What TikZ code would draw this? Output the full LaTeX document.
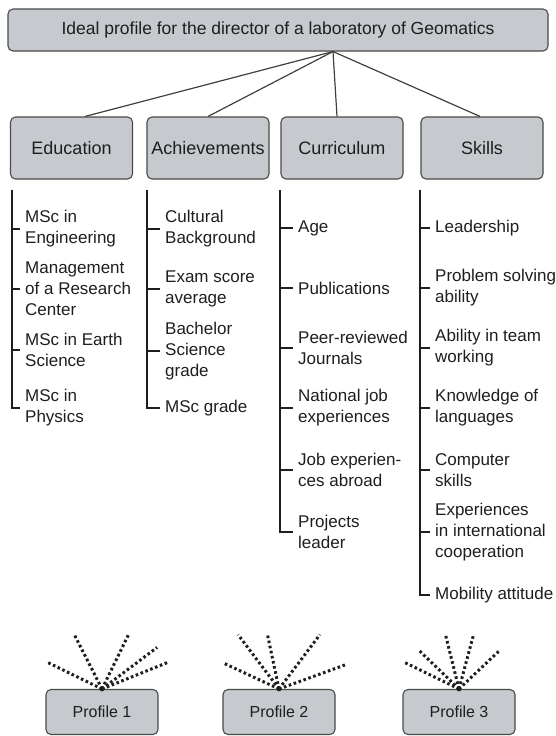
\documentclass[tikz,border=0pt]{standalone}
\usepackage{fontspec}
\setmainfont{Liberation Sans}

\definecolor{boxgray}{HTML}{C6C9CE}
\definecolor{edgegray}{HTML}{4A4A4A}
\definecolor{inkgray}{HTML}{1E1E1E}

\tikzstyle{headbox} = [draw=edgegray, fill=boxgray, line width=1.1pt,
  rectangle, rounded corners=5pt, minimum width=540pt, minimum
  height=42pt, text=inkgray, font=\fontsize{17.5}{21}\selectfont]
\tikzstyle{groupbox} = [draw=edgegray, fill=boxgray, line width=1.1pt,
  rectangle, rounded corners=5pt, inner sep=0pt, minimum width=122pt,
  minimum height=62pt, text=inkgray, font=\fontsize{18}{22}\selectfont]
\tikzstyle{profilebox} = [draw=edgegray, fill=boxgray, line width=1.1pt,
  rectangle, rounded corners=5pt, minimum width=112pt, minimum
  height=45pt, text=inkgray, font=\fontsize{16}{19}\selectfont]
\tikzstyle{listitem} = [anchor=west, align=left, inner xsep=5pt,
  inner ysep=0pt, text=inkgray, font=\fontsize{17}{21}\selectfont]
\tikzstyle{link} = [draw=inkgray!85, line width=1.2pt]
\tikzstyle{spine} = [draw=inkgray, line width=1.7pt]
\tikzstyle{ray} = [draw=inkgray, line width=3pt,
  dash pattern=on 2.6pt off 2.6pt]

\begin{document}
\begin{tikzpicture}[x=1pt, y=-1pt]
        \useasboundingbox (0,0) rectangle (555,736);

        % header and the four groups
        \node [headbox]  (ideal)        at (278,  30) {Ideal profile for the director of a laboratory of Geomatics};
        \node [groupbox] (education)    at (71.5,148) {Education};
        \node [groupbox] (achievements) at (208, 148) {Achievements};
        \node [groupbox] (curriculum)   at (342, 148) {Curriculum};
        \node [groupbox] (skills)       at (482, 148) {Skills};

        \coordinate (apex) at ([xshift=55pt]ideal.south);
        \draw[link] (apex) -- ([xshift=13.5pt]education.north);
        \draw[link] (apex) -- (achievements.north);
        \draw[link] (apex) -- ([xshift=-5pt]curriculum.north);
        \draw[link] (apex) -- ([xshift=-2pt]skills.north);

        % lists below each group
        \coordinate (edutop) at ( 12,190);
        \coordinate (achtop) at (147,190);
        \coordinate (curtop) at (280,190);
        \coordinate (skltop) at (420,190);

        \node [listitem] (edu1) at ( 20,229) {MSc in\\Engineering};
        \node [listitem] (edu2) at ( 20,289) {Management\\of a Research\\Center};
        \node [listitem] (edu3) at ( 20,350) {MSc in Earth\\Science};
        \node [listitem] (edu4) at ( 20,408) {MSc in\\Physics};

        \node [listitem] (ach1) at (160,229) {Cultural\\Background};
        \node [listitem] (ach2) at (160,289) {Exam score\\average};
        \node [listitem] (ach3) at (160,351) {Bachelor\\Science\\grade};
        \node [listitem] (ach4) at (160,408) {MSc grade};

        \node [listitem] (cur1) at (293,228) {Age};
        \node [listitem] (cur2) at (293,288) {Publications};
        \node [listitem] (cur3) at (293,348) {Peer-reviewed\\Journals};
        \node [listitem] (cur4) at (293,408) {National job\\experiences};
        \node [listitem] (cur5) at (293,470) {Job experien-\\ces abroad};
        \node [listitem] (cur6) at (293,532) {Projects\\leader};

        \node [listitem] (skl1) at (430,228) {Leadership};
        \node [listitem] (skl2) at (430,288) {Problem solving\\ability};
        \node [listitem] (skl3) at (430,348) {Ability in team\\working};
        \node [listitem] (skl4) at (430,408) {Knowledge of\\languages};
        \node [listitem] (skl5) at (430,470) {Computer\\skills};
        \node [listitem] (skl6) at (430,532) {Experiences\\in international\\cooperation};
        \node [listitem] (skl7) at (430,595) {Mobility attitude};

        \draw[spine] (edutop) |- (edu4.west);
        \draw[spine] (achtop) |- (ach4.west);
        \draw[spine] (curtop) |- (cur6.west);
        \draw[spine] (skltop) |- (skl7.west);
        \foreach \i in {1,2,3}
          \draw[spine] (edu\i.west) -- (edu\i.west -| edutop);
        \foreach \i in {1,2,3}
          \draw[spine] (ach\i.west) -- (ach\i.west -| achtop);
        \foreach \i in {1,...,5}
          \draw[spine] (cur\i.west) -- (cur\i.west -| curtop);
        \foreach \i in {1,...,6}
          \draw[spine] (skl\i.west) -- (skl\i.west -| skltop);

        % profiles with their dotted rays
        \node [profilebox] (profile1) at (102,712) {Profile 1};
        \node [profilebox] (profile2) at (279,712) {Profile 2};
        \node [profilebox] (profile3) at (459,712) {Profile 3};

        \foreach \a/\l in {154/61, 117/62, 64/61, 37/69, 22/72}
          \draw[ray] (profile1.north) -- ++(\a:\l pt);
        \foreach \a/\l in {155/61, 127/68, 102/56, 53/68, 20/72}
          \draw[ray] (profile2.north) -- ++(\a:\l pt);
        \foreach \a/\l in {154/60, 136/55, 104/55, 75/55, 43.5/55}
          \draw[ray] (profile3.north) -- ++(\a:\l pt);
        \foreach \p in {profile1, profile2, profile3}
          \fill[inkgray] (\p.north) circle (2.4pt);
      \end{tikzpicture}
\end{document}
